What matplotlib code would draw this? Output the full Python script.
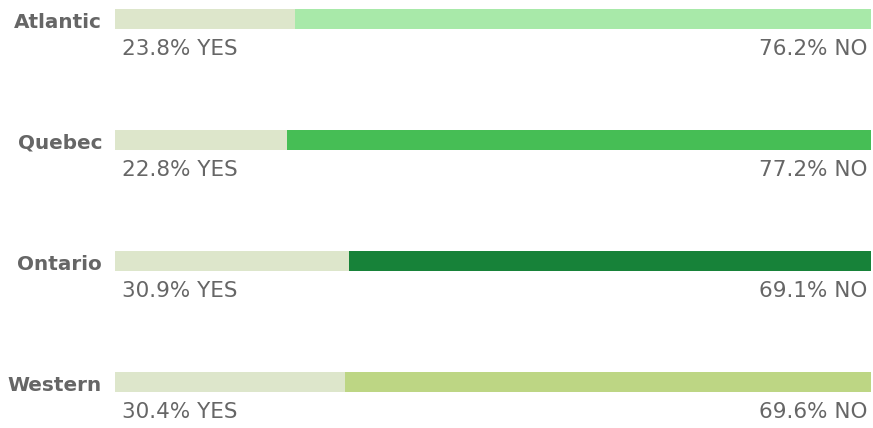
import matplotlib.pyplot as plt

regions = ["Atlantic", "Quebec", "Ontario", "Western"]
yes_pct = [23.8, 22.8, 30.9, 30.4]
no_pct = [76.2, 77.2, 69.1, 69.6]
no_colors = ["#a8e9a9", "#46be55", "#178239", "#bdd684"]
yes_color = "#dde6cb"
text_color = "#666666"

fig = plt.figure(figsize=(8.73, 4.28), dpi=100)
ax = fig.add_axes([115 / 873, 0, 756 / 873, 1])
ax.set_xlim(0, 100)
ax.set_ylim((428 - 19) / 121, -19 / 121)
ax.axis("off")

pos = list(range(len(regions)))
ax.barh(pos, yes_pct, height=20 / 121, color=yes_color)
ax.barh(pos, no_pct, left=yes_pct, height=20 / 121, color=no_colors)

for i, name in enumerate(regions):
    ax.text(-1.7, i + 0.074, name, ha="right", va="baseline", fontsize=14.4,
            fontweight="bold", color=text_color, family="DejaVu Sans")
    ax.text(0.9, i + 0.298, f"{yes_pct[i]}% YES", ha="left", va="baseline",
            fontsize=15.5, color=text_color, family="DejaVu Sans")
    ax.text(99.5, i + 0.298, f"{no_pct[i]}% NO", ha="right", va="baseline",
            fontsize=15.5, color=text_color, family="DejaVu Sans")

fig.savefig("out.png", dpi=100)
